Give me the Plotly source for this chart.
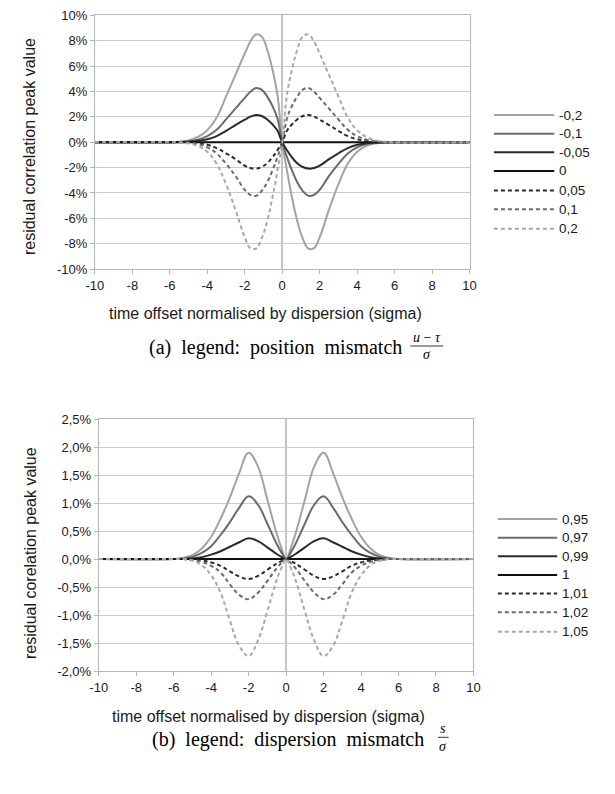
import plotly.graph_objects as go

# ---------------- data ----------------
# (a) position mismatch
X_A = [-10, -6, -5.5, -5, -4.5, -4, -3.5, -3, -2.5, -2, -1.7, -1.4, -1.1, -0.8, -0.5, -0.25, 0,
       0.25, 0.5, 0.8, 1.1, 1.4, 1.7, 2, 2.5, 3, 3.5, 4, 4.5, 5, 5.5, 6, 10]
LABELS_A = ["-0,2", "-0,1", "-0,05", "0", "0,05", "0,1", "0,2"]
A_m020 = [0, 0, 0.04, 0.15, 0.42, 0.95, 1.95, 3.6, 5.3, 7.0, 7.95, 8.5, 8.35, 7.3, 5.6, 3.7, 0,
          -2.2, -4.2, -6.2, -7.6, -8.4, -8.35, -7.5, -5.3, -3.3, -1.7, -0.75, -0.28, -0.09, -0.02, 0, 0]
A_m010 = [0, 0, 0.02, 0.07, 0.21, 0.48, 0.98, 1.8, 2.65, 3.5, 3.98, 4.28, 4.15, 3.6, 2.8, 1.85, 0,
          -1.15, -2.15, -3.15, -3.85, -4.23, -4.15, -3.75, -2.65, -1.7, -0.88, -0.4, -0.14, -0.04, -0.01, 0, 0]
A_m005 = [0, 0, 0.01, 0.04, 0.11, 0.24, 0.49, 0.9, 1.35, 1.78, 2.02, 2.15, 2.07, 1.8, 1.38, 0.9, 0,
          -0.62, -1.15, -1.65, -1.95, -2.08, -2.03, -1.85, -1.33, -0.87, -0.46, -0.2, -0.07, -0.02, 0, 0, 0]
A_0 = [0] * 33
A_p005 = [0, 0, 0, -0.02, -0.07, -0.2, -0.46, -0.87, -1.33, -1.85, -2.03, -2.08, -1.95, -1.65, -1.15, -0.62, 0,
          0.9, 1.38, 1.8, 2.07, 2.15, 2.02, 1.78, 1.35, 0.9, 0.49, 0.24, 0.11, 0.04, 0.01, 0, 0]
A_p010 = [0, 0, -0.01, -0.04, -0.14, -0.4, -0.88, -1.7, -2.65, -3.75, -4.15, -4.23, -3.85, -3.15, -2.15, -1.15, 0,
          1.85, 2.8, 3.6, 4.15, 4.28, 3.98, 3.5, 2.65, 1.8, 0.98, 0.48, 0.21, 0.07, 0.02, 0, 0]
A_p020 = [0, 0, -0.02, -0.09, -0.28, -0.75, -1.7, -3.3, -5.3, -7.5, -8.35, -8.4, -7.6, -6.2, -4.2, -2.2, 0,
          3.7, 5.6, 7.3, 8.35, 8.5, 7.95, 7.0, 5.3, 3.6, 1.95, 0.95, 0.42, 0.15, 0.04, 0, 0]
SERIES_A = [A_m020, A_m010, A_m005, A_0, A_p005, A_p010, A_p020]

# (b) dispersion mismatch
X_B = [-10, -6, -5.5, -5, -4.5, -4, -3.5, -3, -2.5, -2, -1.5, -1, -0.5, -0.25, 0,
       0.25, 0.5, 1, 1.5, 2, 2.5, 3, 3.5, 4, 4.5, 5, 5.5, 6, 10]
LABELS_B = ["0,95", "0,97", "0,99", "1", "1,01", "1,02", "1,05"]
B_095 = [0, 0, 0.02, 0.07, 0.19, 0.4, 0.72, 1.1, 1.54, 1.9, 1.65, 1.06, 0.45, 0.2, 0,
         0.2, 0.45, 1.06, 1.65, 1.9, 1.54, 1.1, 0.72, 0.4, 0.19, 0.07, 0.02, 0, 0]
B_097 = [0, 0, 0.01, 0.04, 0.11, 0.23, 0.43, 0.66, 0.92, 1.12, 0.97, 0.63, 0.27, 0.12, 0,
         0.12, 0.27, 0.63, 0.97, 1.12, 0.92, 0.66, 0.43, 0.23, 0.11, 0.04, 0.01, 0, 0]
B_099 = [0, 0, 0, 0.01, 0.035, 0.08, 0.14, 0.22, 0.3, 0.37, 0.32, 0.21, 0.09, 0.04, 0,
         0.04, 0.09, 0.21, 0.32, 0.37, 0.3, 0.22, 0.14, 0.08, 0.035, 0.01, 0, 0, 0]
B_100 = [0] * 29
B_101 = [0, 0, 0, -0.01, -0.025, -0.06, -0.12, -0.22, -0.31, -0.355, -0.3, -0.19, -0.08, -0.035, 0,
         -0.035, -0.08, -0.19, -0.3, -0.355, -0.31, -0.22, -0.12, -0.06, -0.025, -0.01, 0, 0, 0]
B_102 = [0, 0, 0, -0.015, -0.05, -0.12, -0.24, -0.45, -0.64, -0.715, -0.6, -0.39, -0.16, -0.07, 0,
         -0.07, -0.16, -0.39, -0.6, -0.715, -0.64, -0.45, -0.24, -0.12, -0.05, -0.015, 0, 0, 0]
B_105 = [0, 0, 0, -0.03, -0.11, -0.29, -0.6, -1.1, -1.55, -1.73, -1.45, -0.93, -0.37, -0.16, 0,
         -0.16, -0.37, -0.93, -1.45, -1.73, -1.55, -1.1, -0.6, -0.29, -0.11, -0.03, 0, 0, 0]
SERIES_B = [B_095, B_097, B_099, B_100, B_101, B_102, B_105]

X_TICKS = [-10, -8, -6, -4, -2, 0, 2, 4, 6, 8, 10]
X_TICK_LABELS = ["-10", "-8", "-6", "-4", "-2", "0", "2", "4", "6", "8", "10"]
YA_TICKS = [-10, -8, -6, -4, -2, 0, 2, 4, 6, 8, 10]
YA_TICK_LABELS = ["-10%", "-8%", "-6%", "-4%", "-2%", "0%", "2%", "4%", "6%", "8%", "10%"]
YB_TICKS = [-2.0, -1.5, -1.0, -0.5, 0.0, 0.5, 1.0, 1.5, 2.0, 2.5]
YB_TICK_LABELS = ["-2,0%", "-1,5%", "-1,0%", "-0,5%", "0,0%", "0,5%", "1,0%", "1,5%", "2,0%", "2,5%"]

# ---------------- styles ----------------
COLORS = ["#a3a3a3", "#6b6b6b", "#2b2b2b", "#111111", "#2b2b2b", "#6b6b6b", "#a8a8a8"]
DASHES = ["solid", "solid", "solid", "solid", "4px,3px", "4px,3px", "4px,3px"]
PAGE_W, PAGE_H = 615, 794
OFF = 8                     # default page margin around the figure
W, H = PAGE_W - 2 * OFF, PAGE_H - 2 * OFF
SANS = "Liberation Sans, Arial, sans-serif"
SERIF = "Liberation Serif, Times New Roman, serif"
TXT = "#1a1a1a"


def pxx(x):
    """page pixel x -> paper fraction"""
    return min(1.0, max(0.0, (x - OFF) / W))


def pxy(y):
    """page pixel y -> paper fraction"""
    return min(1.0, max(0.0, 1 - (y - OFF) / H))


fig = go.Figure()
for vals, lab, c, d in zip(SERIES_A, LABELS_A, COLORS, DASHES):
    fig.add_trace(go.Scatter(x=X_A, y=vals, name=lab, mode="lines", xaxis="x", yaxis="y",
                             line=dict(color=c, width=2, dash=d, shape="spline", smoothing=1.15),
                             showlegend=False))
for vals, lab, c, d in zip(SERIES_B, LABELS_B, COLORS, DASHES):
    fig.add_trace(go.Scatter(x=X_B, y=vals, name=lab, mode="lines", xaxis="x2", yaxis="y2",
                             line=dict(color=c, width=2, dash=d, shape="spline", smoothing=1.15),
                             showlegend=False))

axis_common = dict(showline=True, linecolor="#b5b5b5", linewidth=1, mirror=True,
                   ticks="outside", ticklen=4, tickcolor="#b5b5b5",
                   tickfont=dict(family=SANS, size=13, color=TXT))
xcommon = dict(axis_common, showgrid=False, zeroline=True, zerolinecolor="#c4c4c4",
               zerolinewidth=1.5, range=[-10, 10], tickvals=X_TICKS, ticktext=X_TICK_LABELS)
ycommon = dict(axis_common, showgrid=True, gridcolor="#cccccc", gridwidth=1, zeroline=False)

fig.update_layout(
    width=W, height=H, margin=dict(l=0, r=0, t=0, b=0),
    paper_bgcolor="white", plot_bgcolor="white",
    xaxis=dict(xcommon, domain=[pxx(88), pxx(473)], anchor="y"),
    yaxis=dict(ycommon, domain=[pxy(267), pxy(8.5)], anchor="x", range=[-10, 10],
               tickvals=YA_TICKS, ticktext=YA_TICK_LABELS),
    xaxis2=dict(xcommon, domain=[pxx(92), pxx(477)], anchor="y2"),
    yaxis2=dict(ycommon, domain=[pxy(677), pxy(420)], anchor="x2", range=[-2.0, 2.5],
                tickvals=YB_TICKS, ticktext=YB_TICK_LABELS),
)

ann = []
shapes = []
# axis titles
ann.append(dict(text="time offset normalised by dispersion (sigma)", x=pxx(263), y=pxy(312),
                font=dict(family=SANS, size=16, color=TXT)))
ann.append(dict(text="residual correlation peak value", x=pxx(21), y=pxy(142), textangle=-90,
                font=dict(family=SANS, size=16, color=TXT)))
ann.append(dict(text="time offset normalised by dispersion (sigma)", x=pxx(266), y=pxy(723),
                font=dict(family=SANS, size=16, color=TXT)))
ann.append(dict(text="residual corelation peak value", x=pxx(22), y=pxy(557), textangle=-90,
                font=dict(family=SANS, size=16, color=TXT)))

# legends (drawn beside each chart)
LEG_A_Y = [110, 129, 148, 167, 187, 206, 226]
LEG_B_Y = [522, 541, 560, 579, 598, 617, 637]
for labels, ys, x0, x1 in ((LABELS_A, LEG_A_Y, 498, 560), (LABELS_B, LEG_B_Y, 502, 563)):
    for lab, y, c, d in zip(labels, ys, COLORS, DASHES):
        shapes.append(dict(type="line", xref="paper", yref="paper", x0=pxx(x0), x1=pxx(x1),
                           y0=pxy(y), y1=pxy(y), line=dict(color=c, width=2, dash=d)))
        ann.append(dict(text=lab, x=pxx(x1 + 3), y=pxy(y), xanchor="left",
                        font=dict(family=SANS, size=13.5, color=TXT)))

# captions with stacked fractions
SP = "\u2002"


def caption(text, x_right, y_mid, num, den, fx, bar_y, bar_half):
    ann.append(dict(text=text, x=pxx(x_right), y=pxy(y_mid), xanchor="right",
                    font=dict(family=SERIF, size=20, color="black")))
    ann.append(dict(text=num, x=pxx(fx), y=pxy(bar_y - 0.5), yanchor="bottom", borderpad=0,
                    font=dict(family=SERIF, size=14, color="black")))
    ann.append(dict(text=den, x=pxx(fx), y=pxy(bar_y + 0.5), yanchor="top", borderpad=0,
                    font=dict(family=SERIF, size=14, color="black")))
    shapes.append(dict(type="line", xref="paper", yref="paper",
                       x0=pxx(fx - bar_half), x1=pxx(fx + bar_half),
                       y0=pxy(bar_y), y1=pxy(bar_y), line=dict(color="black", width=0.8)))


caption("(a)" + SP + "legend:" + SP + "position" + SP + "mismatch", 406, 347,
        "<i>u</i> \u2212 <i>τ</i>", "<i>σ</i>", 429, 345.5, 17)
caption("(b)" + SP + "legend:" + SP + "dispersion" + SP + "mismatch", 428, 747,
        "<i>s</i>", "<i>σ</i>", 446, 744.5, 5.5)

for a in ann:
    a.setdefault("xref", "paper")
    a.setdefault("yref", "paper")
    a.setdefault("showarrow", False)
    a.setdefault("xanchor", "center")
    a.setdefault("yanchor", "middle")
fig.update_layout(annotations=ann, shapes=shapes)

fig.write_html("out.html", config={"displayModeBar": False})
